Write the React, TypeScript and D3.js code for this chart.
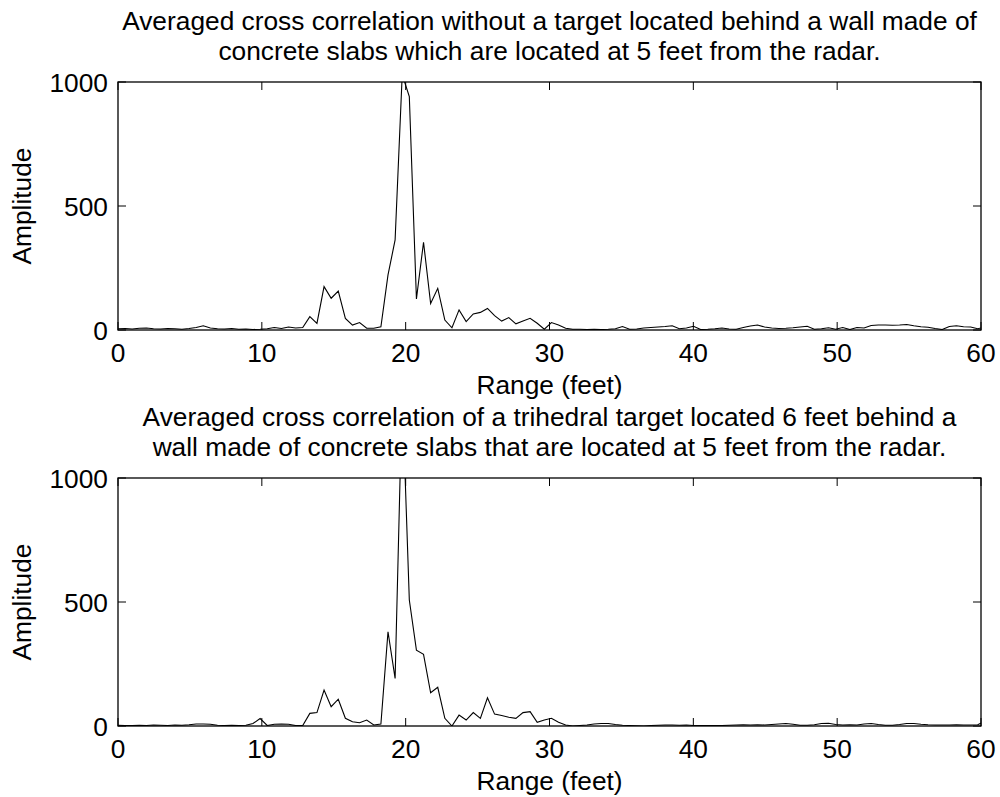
import React from "react";
import * as d3 from "d3";

const STEP = 0.494;
const xTicks = [0, 10, 20, 30, 40, 50, 60];
const yTicks = [0, 500, 1000];

const titles1 = [
  "Averaged cross correlation without a target located behind a wall made of",
  "concrete slabs which are located at 5 feet from the radar.",
];
const titles2 = [
  "Averaged cross correlation of a trihedral target located 6 feet behind a",
  "wall made of concrete slabs that are located at 5 feet from the radar.",
];
const xLabel = "Range (feet)";
const yLabel = "Amplitude";

const series1 = [
  5, 6, 4, 7, 8, 5, 4, 6, 5, 3, 6, 10, 17, 8, 5, 4, 6, 3, 4, 2,
  3, 5, 10, 6, 12, 8, 10, 54, 27, 175, 128, 157, 47, 20, 30, 7, 7, 13, 222, 363,
  1030, 941, 125, 354, 107, 168, 40, 9, 81, 34, 65, 71, 87, 58, 36, 50, 25, 36, 47, 27,
  3, 30, 20, 7, 3, 3, 2, 3, 2, 3, 5, 14, 3, 4, 8, 10, 12, 14, 17, 5,
  8, 15, 2, 3, 5, 8, 4, 3, 10, 16, 20, 12, 8, 6, 7, 9, 12, 15, 3, 5,
  9, 3, 10, 2, 10, 8, 18, 20, 20, 19, 20, 22, 17, 13, 11, 6, 2, 14, 17, 13,
  12, 5, 12,
];

const series2 = [
  3, 2, 2, 3, 2, 4, 3, 2, 4, 3, 5, 8, 8, 7, 3, 2, 3, 2, 3, 10,
  30, 2, 7, 8, 7, 2, 2, 51, 54, 145, 78, 108, 31, 17, 13, 24, 4, 8, 380, 192,
  1350, 508, 306, 289, 134, 156, 31, 0, 44, 24, 54, 31, 114, 48, 42, 35, 31, 54, 58, 15,
  24, 31, 15, 4, 0, 2, 4, 8, 10, 10, 6, 3, 2, 1, 0, 2, 3, 4, 4, 3,
  4, 2, 2, 2, 2, 2, 3, 4, 5, 4, 5, 4, 6, 8, 10, 7, 3, 3, 5, 10,
  11, 6, 4, 5, 4, 8, 10, 6, 3, 3, 6, 10, 10, 7, 5, 4, 4, 4, 5, 4,
  4, 5, 20,
];

const FONT = "'Liberation Sans', Arial, Helvetica, sans-serif";
const FS = 26.3;
const LEFT = 118;
const RIGHT = 981;
const TICK = 8;

type PanelProps = {
  id: string;
  values: number[];
  top: number;
  bottom: number;
  titles: string[];
  titleY: number[];
};

function Panel({ id, values, top, bottom, titles, titleY }: PanelProps) {
  const x = d3.scaleLinear().domain([0, 60]).range([LEFT, RIGHT]);
  const y = d3.scaleLinear().domain([0, 1000]).range([bottom, top]);
  const line = d3
    .line<number>()
    .x((_, i) => x(i * STEP))
    .y((v) => y(v));
  const cx = (LEFT + RIGHT) / 2;
  return (
    <g>
      <defs>
        <clipPath id={id}>
          <rect x={LEFT} y={top} width={RIGHT - LEFT} height={bottom - top} />
        </clipPath>
      </defs>
      {titles.map((t, i) => (
        <text key={i} x={cx} y={titleY[i]} textAnchor="middle" fontSize={FS} fontFamily={FONT} fill="#000">
          {t}
        </text>
      ))}
      <path d={line(values) || ""} fill="none" stroke="#000" strokeWidth={1.1} clipPath={`url(#${id})`} />
      <rect x={LEFT} y={top} width={RIGHT - LEFT} height={bottom - top} fill="none" stroke="#000" strokeWidth={1.3} />
      {xTicks.map((t) => (
        <g key={"x" + t}>
          <line x1={x(t)} x2={x(t)} y1={bottom} y2={bottom - TICK} stroke="#000" strokeWidth={1} />
          <line x1={x(t)} x2={x(t)} y1={top} y2={top + TICK} stroke="#000" strokeWidth={1} />
          <text x={x(t)} y={bottom + 32} textAnchor="middle" fontSize={FS} fontFamily={FONT} fill="#000">
            {t}
          </text>
        </g>
      ))}
      {yTicks.map((t) => (
        <g key={"y" + t}>
          <line x1={LEFT} x2={LEFT + TICK} y1={y(t)} y2={y(t)} stroke="#000" strokeWidth={1} />
          <line x1={RIGHT} x2={RIGHT - TICK} y1={y(t)} y2={y(t)} stroke="#000" strokeWidth={1} />
          <text x={LEFT - 10} y={y(t) + 9.5} textAnchor="end" fontSize={FS} fontFamily={FONT} fill="#000">
            {t}
          </text>
        </g>
      ))}
      <text x={cx} y={bottom + 64} textAnchor="middle" fontSize={FS} fontFamily={FONT} fill="#000">
        {xLabel}
      </text>
      <text
        transform={`translate(31,${(top + bottom) / 2}) rotate(-90)`}
        textAnchor="middle"
        fontSize={FS}
        fontFamily={FONT}
        fill="#000"
      >
        {yLabel}
      </text>
    </g>
  );
}

export default function App() {
  return (
    <svg
      width={1000}
      height={797}
      style={{ position: "absolute", left: 0, top: 0, background: "#fff" }}
    >
      <rect x={0} y={0} width={1000} height={797} fill="#fff" />
      <Panel id="c1" values={series1} top={82} bottom={330} titles={titles1} titleY={[30, 60]} />
      <Panel id="c2" values={series2} top={478} bottom={726} titles={titles2} titleY={[426, 456]} />
    </svg>
  );
}
